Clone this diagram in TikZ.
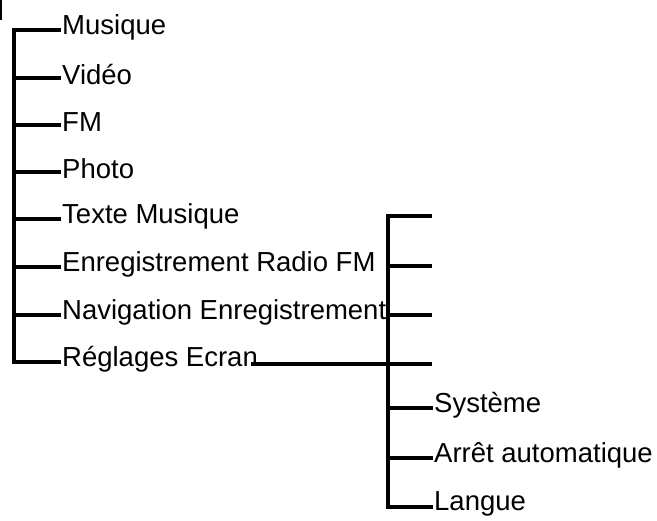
\documentclass[tikz,border=0pt]{standalone}
\usepackage{fontspec}
\setmainfont{Liberation Sans}
\usetikzlibrary{positioning}
\tikzset{
	item/.style={anchor=west, inner sep=1pt, font=\fontsize{27.5}{30}\selectfont},
	branch/.style={line width=3.6pt},
}
\begin{document}
\begin{tikzpicture}[x=1pt, y=-1pt]
	\useasboundingbox (0,0) rectangle (657,521);

	%
	% Top-left mark
	\draw[line width=2pt] (1,0) -- (1,20);

	%
	% Left tree
	\coordinate (L0) at (14,30);
	\coordinate (L7) at (14,362);
	\draw[branch] (L0) -- (L7);
	\foreach \y/\txt/\nm [count=\i] in {30/Musique/mus, 78/Vidéo/vid, 125/FM/fm, 172/Photo/pho, 219/Texte Musique/txm, 267/Enregistrement Radio FM/erf, 315/Navigation Enregistrement/nav, 362/Réglages Ecran/reg}{
		\node[item] (\nm) at (61,\y-3) {\txt};
		\draw[branch] (12,\y) -- (\nm.west |- 0,\y);
	}

	%
	% Right tree
	\coordinate (R0) at (388,216);
	\coordinate (R6) at (388,507);
	\draw[branch] (R0) -- (R6);
	\foreach \y in {216,266,315}{
		\coordinate (end\y) at (432,\y);
		\draw[branch] (386,\y) -- (end\y);
	}
	\coordinate (R3) at (388,364);
	\coordinate (end364) at (432,364);
	\draw[branch] ([xshift=-8pt]reg.east |- R3) -- (end364);
	\foreach \y/\txt/\nm in {408/Système/sys, 458/Arrêt automatique/arr, 507/Langue/lan}{
		\node[item] (\nm) at (433,\y-3) {\txt};
		\draw[branch] (386,\y) -- (\nm.west |- 0,\y);
	}
\end{tikzpicture}
\end{document}
